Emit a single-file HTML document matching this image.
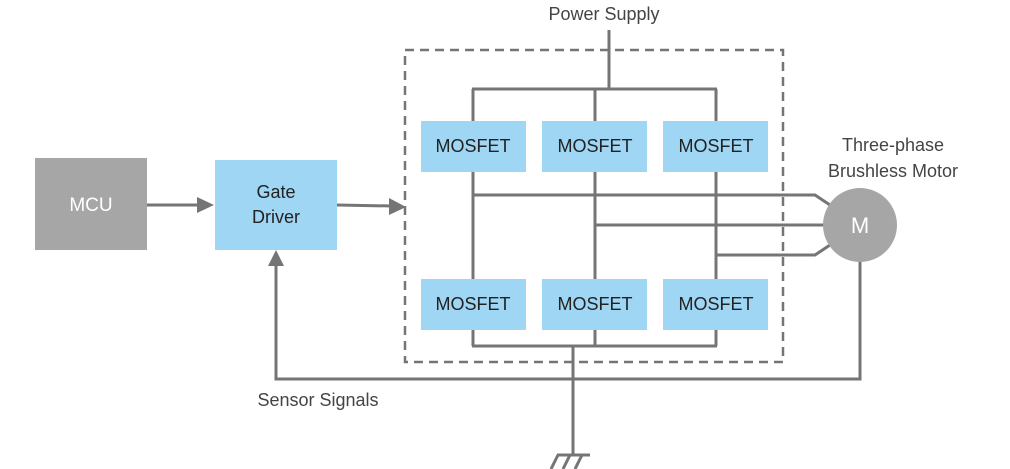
<!DOCTYPE html>
<html><head><style>body{margin:0;background:#fff}svg{display:block}</style></head>
<body>
<svg width="1010" height="469" viewBox="0 0 1010 469" xmlns="http://www.w3.org/2000/svg" font-family="Liberation Sans, sans-serif">
<g stroke="#757575" stroke-width="3" fill="none">
<line x1="609" y1="30" x2="609" y2="89"/>
<line x1="472" y1="89" x2="717" y2="89"/>
<line x1="473" y1="89" x2="473" y2="346"/>
<line x1="595" y1="89" x2="595" y2="346"/>
<line x1="716" y1="89" x2="716" y2="346"/>
<line x1="472" y1="346" x2="717" y2="346"/>
<line x1="573" y1="346" x2="573" y2="455"/>
<line x1="557" y1="455" x2="590" y2="455"/>
<line x1="558" y1="455" x2="551" y2="469"/>
<line x1="570" y1="455" x2="563" y2="469"/>
<line x1="582" y1="455" x2="575" y2="469"/>
<polyline points="473,195 815,195 830,205"/>
<line x1="595" y1="225" x2="825" y2="225"/>
<polyline points="716,255 815,255 830,245"/>
<polyline points="860,255 860,379 276,379 276,262"/>
<line x1="147" y1="205" x2="200" y2="205"/>
<line x1="337" y1="205" x2="392" y2="206"/>
</g>
<g fill="#757575">
<polygon points="214,205 197,197 197,213"/>
<polygon points="406,207 389,198 389,215"/>
<polygon points="276,250 268,266 284,266"/>
</g>
<rect x="405" y="50" width="378" height="312" fill="none" stroke="#757575" stroke-width="2.5" stroke-dasharray="9,6"/>
<rect x="35" y="158" width="112" height="92" fill="#a6a6a6"/>
<text x="91" y="211" font-size="19" fill="#fff" text-anchor="middle">MCU</text>
<rect x="215" y="160" width="122" height="90" fill="#9fd6f4"/>
<text x="276" y="198" font-size="18" fill="#222" text-anchor="middle">Gate</text>
<text x="276" y="223" font-size="18" fill="#222" text-anchor="middle">Driver</text>
<g fill="#9fd6f4">
<rect x="421" y="121" width="105" height="51"/><rect x="542" y="121" width="105" height="51"/><rect x="663" y="121" width="105" height="51"/>
<rect x="421" y="279" width="105" height="51"/><rect x="542" y="279" width="105" height="51"/><rect x="663" y="279" width="105" height="51"/>
</g>
<g font-size="18" fill="#222" text-anchor="middle">
<text x="473" y="152">MOSFET</text><text x="595" y="152">MOSFET</text><text x="716" y="152">MOSFET</text>
<text x="473" y="310">MOSFET</text><text x="595" y="310">MOSFET</text><text x="716" y="310">MOSFET</text>
</g>
<circle cx="860" cy="225" r="37" fill="#a6a6a6"/>
<text x="860" y="233" font-size="22" fill="#fff" text-anchor="middle">M</text>
<g font-size="18" fill="#444" text-anchor="middle">
<text x="604" y="20">Power Supply</text>
<text x="893" y="151">Three-phase</text>
<text x="893" y="177">Brushless Motor</text>
<text x="318" y="406">Sensor Signals</text>
</g>
</svg>
</body></html>
